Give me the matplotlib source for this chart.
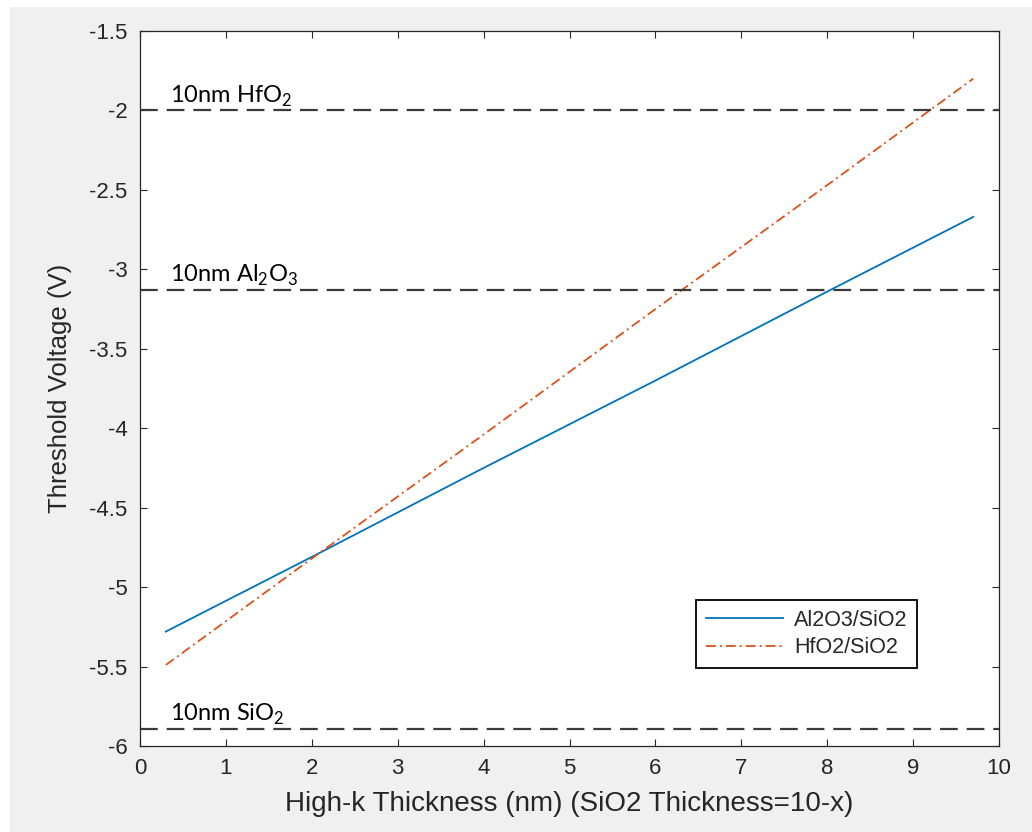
import matplotlib.pyplot as plt
from matplotlib.patches import Rectangle

# high-k thickness (nm) and threshold voltages
x = [0.3, 2, 4, 6, 8, 9.7]
al2o3 = [-5.28, -4.81, -4.25, -3.70, -3.14, -2.67]
hfo2 = [-5.49, -4.82, -4.04, -3.25, -2.47, -1.80]

# reference levels for 10nm single layers
ref_vals = [-2.0, -3.13, -5.89]
ref_labels = ['10nm HfO$_2$', '10nm Al$_2$O$_3$', '10nm SiO$_2$']

plt.rcParams['font.family'] = ['Liberation Sans', 'DejaVu Sans']
plt.rcParams['mathtext.fontset'] = 'custom'
plt.rcParams['mathtext.rm'] = 'Lato'

fig = plt.figure(figsize=(10.32, 8.32), dpi=100, facecolor='white')
fig.patches.append(Rectangle((10 / 1032, 0), 1, 1 - 7 / 832, transform=fig.transFigure,
                             facecolor='#f0f0f0', edgecolor='none', zorder=-10))
ax = fig.add_axes([140 / 1032, 1 - 746 / 832, 859 / 1032, 715 / 832])

grey = '#262626'
ax.plot(x, al2o3, color='#0072BD', lw=1.3, label='Al2O3/SiO2')
ax.plot(x, hfo2, color='#D95319', lw=1.3, dashes=(5.5, 2.2, 1.1, 2.2), label='HfO2/SiO2')

for v, lab in zip(ref_vals, ref_labels):
    ax.axhline(v, color='#3a3a3a', lw=1.6, dashes=(8, 4))
    ax.text(0.35, v + 0.05, lab, fontsize=17, family='Lato', color='black', va='baseline')

ax.set_xlim(0, 10)
ax.set_ylim(-6, -1.5)
ax.set_xticks(range(0, 11))
ax.set_yticks([-6, -5.5, -5, -4.5, -4, -3.5, -3, -2.5, -2, -1.5])
ax.set_yticklabels(['-6', '-5.5', '-5', '-4.5', '-4', '-3.5', '-3', '-2.5', '-2', '-1.5'])
ax.tick_params(direction='in', top=True, right=True, length=5, width=0.8,
               labelsize=16, colors=grey, pad=9)
for s in ax.spines.values():
    s.set_color(grey)
    s.set_linewidth(0.9)

ax.set_xlabel('High-k Thickness (nm) (SiO2 Thickness=10-x)', fontsize=20, color=grey, labelpad=8)
ax.set_ylabel('Threshold Voltage (V)', fontsize=18.5, color=grey, labelpad=12)

leg = ax.legend(loc='lower right', bbox_to_anchor=(0.905, 0.109), borderaxespad=0,
                fontsize=15.5, fancybox=False, framealpha=1, edgecolor='black',
                handlelength=3.6, handletextpad=0.5, borderpad=0.45, labelspacing=0.3)
leg.get_frame().set_linewidth(1.3)
for t in leg.get_texts():
    t.set_color(grey)

fig.savefig('out.png', dpi=100, facecolor=fig.get_facecolor())
